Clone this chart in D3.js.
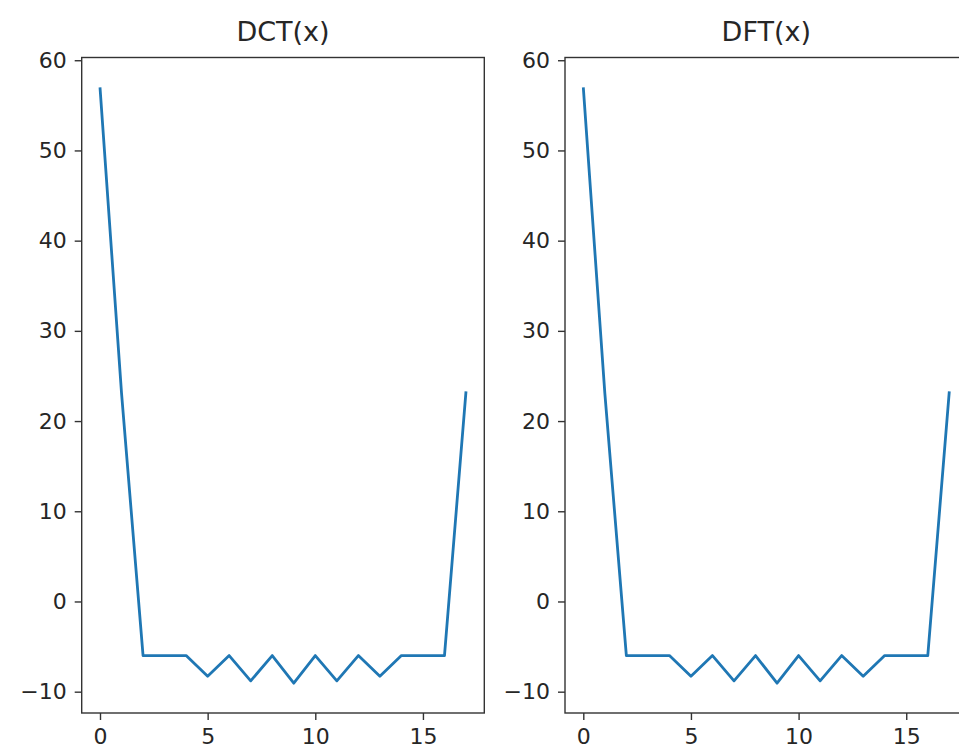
<!DOCTYPE html>
<html>
<head>
<meta charset="utf-8">
<script src="https://cdn.jsdelivr.net/npm/d3@7"></script>
<style>
  html, body { margin: 0; padding: 0; background: #fff; overflow: hidden; }
  svg { display: block; font-family: 'DejaVu Sans', sans-serif; }
</style>
</head>
<body>
<div id="chart"></div>
<script>
// sample index 0..17
const indices = d3.range(18)

// values
const dctValues = [57.0, 23.1, -6.0, -6.0, -6.0, -8.3, -6.0, -8.8, -6.0, -9.06, -6.0, -8.8, -6.0, -8.3, -6.0, -6.0, -6.0, 23.3]
const dftValues = [57.0, 23.1, -6.0, -6.0, -6.0, -8.3, -6.0, -8.8, -6.0, -9.06, -6.0, -8.8, -6.0, -8.3, -6.0, -6.0, -6.0, 23.3]

const titles = ['DCT(x)', 'DFT(x)']
const xTicks = [0, 5, 10, 15]
const yTicks = [-10, 0, 10, 20, 30, 40, 50, 60]

const width = 959, height = 752
const panelWidth = 402.6
const panels = [
  { title: titles[0], values: dctValues, left: 81.7 },
  { title: titles[1], values: dftValues, left: 565 }
]
const plotTop = 57.5, plotBottom = 713

const svg = d3.select('#chart')
  .append('svg')
    .attr('width', width)
    .attr('height', height)

// matplotlib-like 5% margins
function padded (ext) {
  const m = (ext[1] - ext[0]) * 0.05
  return [ext[0] - m, ext[1] + m]
}

panels.forEach(p => {
  const right = p.left + panelWidth
  const x = d3.scaleLinear().domain(padded(d3.extent(indices))).range([p.left, right])
  const y = d3.scaleLinear().domain(padded(d3.extent(p.values))).range([plotBottom, plotTop])

  const g = svg.append('g')

  const line = d3.line()
    .x((d, i) => x(indices[i]))
    .y(d => y(d))

  g.append('path')
    .datum(p.values)
    .attr('fill', 'none')
    .attr('stroke', '#1f77b4')
    .attr('stroke-width', 2.8)
    .attr('stroke-linejoin', 'round')
    .attr('d', line)

  // frame
  g.append('rect')
    .attr('x', p.left)
    .attr('y', plotTop)
    .attr('width', panelWidth)
    .attr('height', plotBottom - plotTop)
    .attr('fill', 'none')
    .attr('stroke', '#333')
    .attr('stroke-width', 1.4)

  const xAxis = g.append('g')
    .attr('transform', `translate(0,${plotBottom})`)
    .call(d3.axisBottom(x).tickValues(xTicks).tickSize(7).tickPadding(8).tickFormat(d3.format('d')))
  const yAxis = g.append('g')
    .attr('transform', `translate(${p.left},0)`)
    .call(d3.axisLeft(y).tickValues(yTicks).tickSize(7).tickPadding(8).tickFormat(d3.format('d')))

  ;[xAxis, yAxis].forEach(a => {
    a.select('.domain').remove()
    a.selectAll('.tick line').attr('stroke', '#333').attr('stroke-width', 1.4)
    a.selectAll('.tick text')
      .attr('fill', '#262626')
      .attr('font-size', 22)
      .attr('font-family', 'DejaVu Sans, sans-serif')
  })

  g.append('text')
    .attr('x', p.left + panelWidth / 2)
    .attr('y', 41)
    .attr('text-anchor', 'middle')
    .attr('font-size', 27)
    .attr('fill', '#262626')
    .text(p.title)
})
</script>
</body>
</html>
